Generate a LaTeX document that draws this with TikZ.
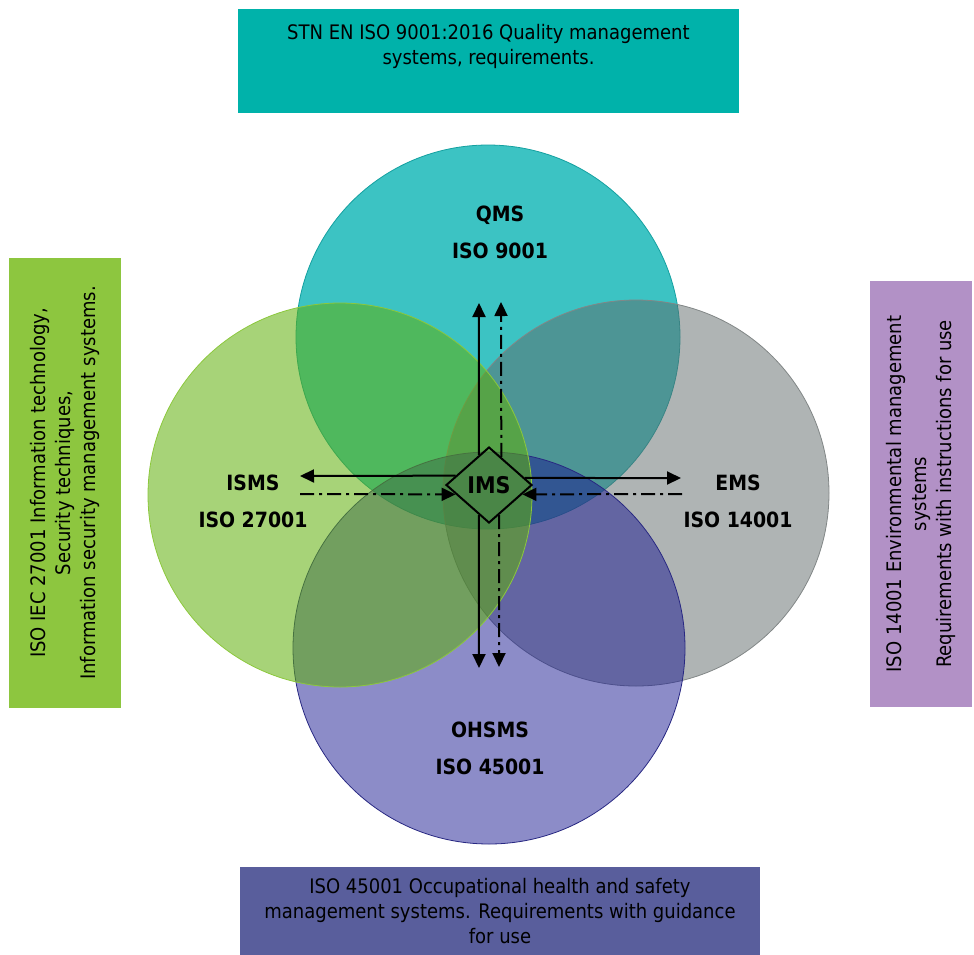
\documentclass[tikz,border=0pt]{standalone}
\usepackage{fontspec}
\setmainfont{DejaVu Sans Condensed}
\usetikzlibrary{shapes.geometric,arrows.meta,calc}

\definecolor{qmsfill}{RGB}{60,195,195}
\definecolor{qmsedge}{RGB}{20,160,160}
\definecolor{emsfill}{RGB}{95,105,105}
\definecolor{emsedge}{RGB}{130,135,135}
\definecolor{ohsmsfill}{RGB}{25,25,145}
\definecolor{ohsmsedge}{RGB}{40,40,130}
\definecolor{ismsfill}{RGB}{95,175,10}
\definecolor{ismsedge}{RGB}{140,200,60}
\definecolor{qmsbox}{RGB}{0,178,170}
\definecolor{ismsbox}{RGB}{141,198,63}
\definecolor{emsbox}{RGB}{178,145,198}
\definecolor{ohsmsbox}{RGB}{89,94,156}

\begin{document}
\begin{tikzpicture}[x=1pt, y=-1pt, every node/.style={font=\fontsize{20}{25}\selectfont},
    stdbox/.style={inner sep=0pt, align=center},
    sysname/.style={font=\fontsize{21}{37}\selectfont\bfseries, align=center},
    flow/.style={line width=2pt, -{Triangle[length=14pt,width=13pt]}},
    dashflow/.style={flow, dash pattern=on 14pt off 5pt on 3pt off 5pt}]
		\useasboundingbox (0,0) rectangle (974,954);

		% Circles
		\draw[fill=qmsfill, draw=qmsedge, line width=0.8pt] (488,337) circle[radius=192];
		\draw[fill=emsfill, fill opacity=0.5, draw=emsedge, line width=0.8pt] (636,493) circle[radius=193];
		\draw[fill=ohsmsfill, fill opacity=0.5, draw=ohsmsedge, line width=0.8pt] (489,648) circle[radius=196];
		\draw[fill=ismsfill, fill opacity=0.55, draw=ismsedge, line width=0.8pt] (340,495) circle[radius=192];

		% Standards
		\node[stdbox, fill=qmsbox, minimum width=501pt, minimum height=104pt] (qmsstd) at (488.5,61)
			{STN EN ISO 9001:2016 Quality management\\systems, requirements.\\ \strut};
		\node[stdbox, fill=ismsbox, rotate=90, minimum width=450pt, minimum height=112pt] (ismsstd) at (65,483)
			{ISO IEC 27001 Information technology,\\Security techniques,\\Information security management systems.};
		\node[stdbox, fill=emsbox, rotate=90, minimum width=426pt, minimum height=102pt] (emsstd) at (921,494)
			{ISO 14001 Environmental management\\systems\\Requirements with instructions for use};
		\node[stdbox, fill=ohsmsbox, minimum width=520pt, minimum height=88pt] (ohsmsstd) at (500,911)
			{ISO 45001 Occupational health and safety\\management systems. Requirements with guidance\\for use};

		% Systems
		\node[sysname] (qms) at (500,232) {QMS\\ISO 9001};
		\node[sysname] (isms) at (253,501) {ISMS\\ISO 27001};
		\node[sysname] (ems) at (738,501) {EMS\\ISO 14001};
		\node[sysname] (ohsms) at (490,748) {OHSMS\\ISO 45001};
		\node[draw, diamond, line width=2pt, inner sep=0pt, aspect=1.13, minimum width=86pt, minimum height=76pt,
			font=\fontsize{23}{26}\selectfont\bfseries] (ims) at (489,485) {IMS};

		% Arrow ends
		\coordinate (upsolid) at (479,303);
		\coordinate (updash) at (501,302);
		\coordinate (downsolid) at (479,668);
		\coordinate (downdash) at (499,667);
		\coordinate (leftsolid) at (300,476);
		\coordinate (leftdash) at (300,494);
		\coordinate (rightsolid) at (681,478);
		\coordinate (rightdash) at (682,494);

		% Arrows
		\draw[flow] ($(ims.north)!0.23!(ims.west)$) -- (upsolid);
		\draw[dashflow] ($(ims.north)!0.28!(ims.east)$) -- (updash);
		\draw[flow] ($(ims.south)!0.23!(ims.west)$) -- (downsolid);
		\draw[dashflow] ($(ims.south)!0.23!(ims.east)$) -- (downdash);
		\draw[flow] ($(ims.west)!0.24!(ims.north)$) -- (leftsolid);
		\draw[dashflow] (leftdash) -- ($(ims.west)!0.24!(ims.south)$);
		\draw[flow] ($(ims.east)!0.18!(ims.north)$) -- (rightsolid);
		\draw[dashflow] (rightdash) -- ($(ims.east)!0.24!(ims.south)$);
	\end{tikzpicture}
\end{document}
